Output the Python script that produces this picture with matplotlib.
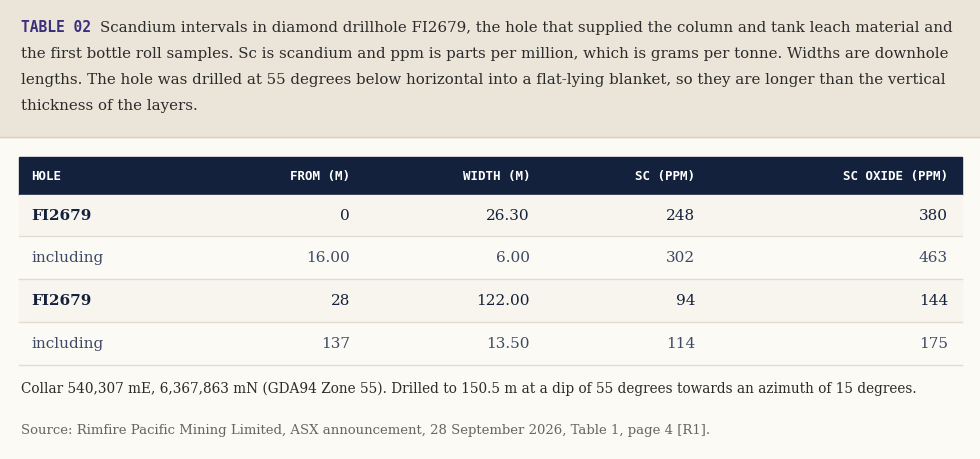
import matplotlib.pyplot as plt
from matplotlib.patches import Rectangle

holes = ["FI2679", "including", "FI2679", "including"]
from_m = ["0", "16.00", "28", "137"]
width_m = ["26.30", "6.00", "122.00", "13.50"]
sc_ppm = ["248", "302", "94", "114"]
sc_oxide = ["380", "463", "144", "175"]
headers = ["HOLE", "FROM (M)", "WIDTH (M)", "SC (PPM)", "SC OXIDE (PPM)"]

W, H = 980, 460
fig = plt.figure(figsize=(W / 100, H / 100), dpi=100)
fig.patch.set_facecolor("#fcfaf4")
ax = fig.add_axes([0, 0, 1, 1])
ax.set_xlim(0, W)
ax.set_ylim(H, 0)
ax.axis("off")

serif = "DejaVu Serif"
mono = "DejaVu Sans Mono"

# caption band
ax.add_patch(Rectangle((0, 0), W, 138, color="#ebe5d9"))
ax.plot([0, W], [138, 138], color="#d8d0c0", lw=1)
ax.text(21, 28, "TABLE 02", family=mono, weight="bold", color="#3b2f7a", fontsize=10.5, va="center")
lines = [
    "Scandium intervals in diamond drillhole FI2679, the hole that supplied the column and tank leach material and",
    "the first bottle roll samples. Sc is scandium and ppm is parts per million, which is grams per tonne. Widths are downhole",
    "lengths. The hole was drilled at 55 degrees below horizontal into a flat-lying blanket, so they are longer than the vertical",
    "thickness of the layers.",
]
ax.text(100, 28, lines[0], family=serif, fontsize=10.8, color="#2b2b2b", va="center")
for i, s in enumerate(lines[1:]):
    ax.text(21, 54 + 26 * i, s, family=serif, fontsize=10.8, color="#2b2b2b", va="center")

# table header
x0, x1 = 19, 962
ax.add_patch(Rectangle((x0, 158), x1 - x0, 38, color="#14213d"))
col_x = [31, 350, 530, 695, 948]
for j, h in enumerate(headers):
    ax.text(col_x[j], 177, h, family=mono, fontsize=9, color="white", weight="bold",
            ha="left" if j == 0 else "right", va="center")

row_y = [196, 237, 280, 323, 366]
for i in range(len(holes)):
    top, bot = row_y[i], row_y[i + 1]
    main = holes[i] != "including"
    ax.add_patch(Rectangle((x0, top), x1 - x0, bot - top, color="#f8f5ee" if main else "#fcfaf4"))
    ax.plot([x0, x1], [bot, bot], color="#e2dccf", lw=1)
    cy = (top + bot) / 2
    color = "#14213d" if main else "#3d4a66"
    vals = [holes[i], from_m[i], width_m[i], sc_ppm[i], sc_oxide[i]]
    for j, v in enumerate(vals):
        ax.text(col_x[j] if j else 31, cy, v, family=serif, fontsize=11,
                color=color, weight="bold" if (j == 0 and main) else "normal",
                ha="left" if j == 0 else "right", va="center")

ax.text(21, 389, "Collar 540,307 mE, 6,367,863 mN (GDA94 Zone 55). Drilled to 150.5 m at a dip of 55 degrees towards an azimuth of 15 degrees.",
        family=serif, fontsize=9.8, color="#2b2b2b", va="center")
ax.text(21, 431, "Source: Rimfire Pacific Mining Limited, ASX announcement, 28 September 2026, Table 1, page 4 [R1].",
        family=serif, fontsize=9.5, color="#666666", va="center")

fig.savefig("out.png", dpi=100, facecolor=fig.get_facecolor())
